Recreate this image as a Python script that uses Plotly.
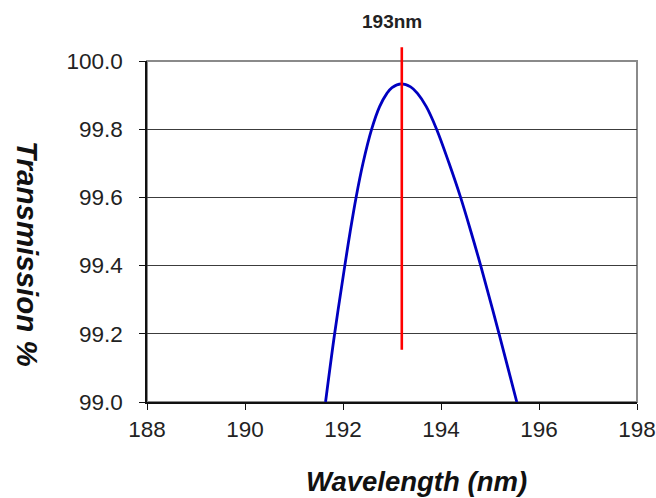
import plotly.graph_objects as go

# Data
wavelength = [191.644, 191.829, 192.037, 192.147, 192.267, 192.408, 192.585,
              192.747, 192.896, 193.0, 193.19, 193.38, 193.52, 193.70,
              193.91, 194.165, 194.40, 194.61, 194.81, 195.185, 195.547]
transmission = [99.0, 99.2, 99.4, 99.5, 99.6, 99.7, 99.8,
                99.866, 99.905, 99.922, 99.933, 99.924, 99.905, 99.866,
                99.8, 99.7, 99.6, 99.5, 99.4, 99.2, 99.0]

marker_wavelength = 193.2
marker_low = 99.153
marker_high = 100.04
marker_label = "193nm"
label_at = 193.0

x_range = [188, 198]
y_range = [99.0, 100.0]
x_ticks = [188, 190, 192, 194, 196, 198]
y_ticks = [99.0, 99.2, 99.4, 99.6, 99.8, 100.0]

FONT = "Arial, Liberation Sans, sans-serif"

fig = go.Figure()
fig.add_trace(go.Scatter(
    x=wavelength, y=transmission, mode="lines",
    line=dict(color="#0000C0", width=2.8, shape="spline", smoothing=1.0),
    showlegend=False, hoverinfo="skip"))

def to_paper(v):
    return (v - y_range[0]) / (y_range[1] - y_range[0])

shapes = [
    dict(type="rect", xref="paper", yref="paper", x0=0, x1=1, y0=0, y1=1,
         line=dict(color="#8a8a8a", width=2), layer="below"),
    dict(type="line", xref="x", yref="paper", x0=marker_wavelength, x1=marker_wavelength,
         y0=to_paper(marker_low), y1=to_paper(marker_high),
         line=dict(color="#FF0000", width=2.6), layer="above"),
]

annotations = [
    dict(text=marker_label, xref="x", yref="paper", x=label_at, y=1.117,
         showarrow=False, xanchor="center", yanchor="middle",
         font=dict(family=FONT, size=19, color="#222222", weight="bold")),
    dict(text="<b><i>Wavelength (nm)</i></b>", xref="paper", yref="paper",
         x=0.551, y=-0.2346, showarrow=False, xanchor="center", yanchor="middle",
         font=dict(family=FONT, size=27.5, color="#111111")),
    dict(text="<b><i>Transmission %</i></b>", xref="paper", yref="paper",
         x=-0.243, y=0.434, showarrow=False, xanchor="center", yanchor="middle",
         textangle=90, font=dict(family=FONT, size=29.5, color="#111111")),
]

fig.update_layout(
    width=656, height=498,
    margin=dict(l=147, r=19, t=61, b=96, pad=0, autoexpand=False),
    paper_bgcolor="white", plot_bgcolor="white",
    shapes=shapes, annotations=annotations,
    xaxis=dict(range=x_range, tickmode="array", tickvals=x_ticks,
               ticktext=[str(t) for t in x_ticks], automargin=False,
               showgrid=False, zeroline=False, showline=True,
               linecolor="#111111", linewidth=1.6,
               ticks="outside", ticklen=6, tickwidth=1.3, tickcolor="#111111",
               ticklabelstandoff=0,
               tickfont=dict(family=FONT, size=22.5, color="#222222")),
    yaxis=dict(range=y_range, tickmode="array", tickvals=y_ticks,
               ticktext=[f"{t:.1f}" for t in y_ticks], automargin=False,
               showgrid=True, gridcolor="#3c3c3c", gridwidth=1.4,
               zeroline=False, showline=True,
               linecolor="#111111", linewidth=1.6,
               ticks="outside", ticklen=6, tickwidth=1.3, tickcolor="#111111",
               ticklabelstandoff=12,
               tickfont=dict(family=FONT, size=22.5, color="#222222")),
)

fig.write_html(
    "out.html",
    config={"responsive": False, "displayModeBar": False},
    post_script="document.body.style.margin='0';document.body.style.overflow='hidden';",
)
